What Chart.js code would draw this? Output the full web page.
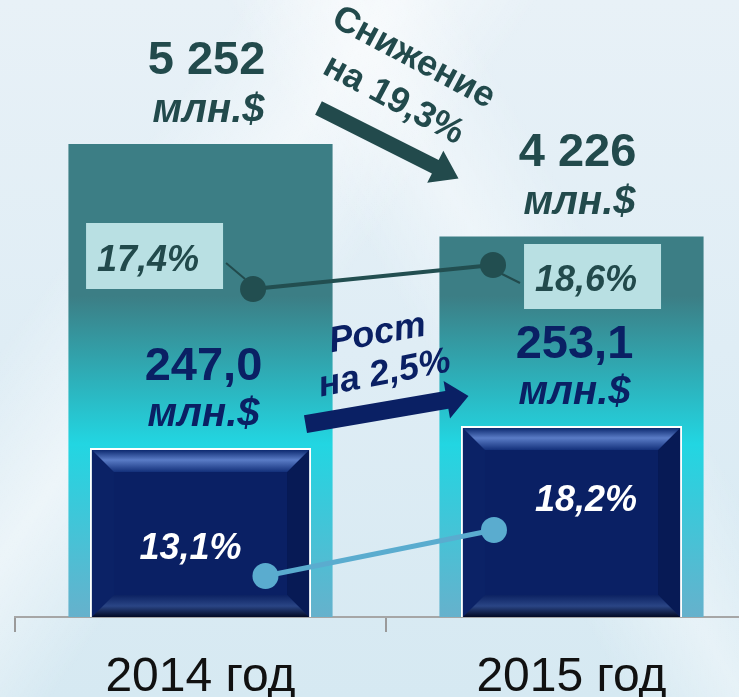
<!DOCTYPE html>
<html>
<head>
<meta charset="utf-8">
<script src="https://cdn.jsdelivr.net/npm/chart.js"></script>
<style>
  html, body { margin: 0; padding: 0; overflow: hidden; }
  body {
    width: 739px; height: 697px;
    background:
      linear-gradient(125deg, rgba(255,255,255,0) 20%, rgba(255,255,255,0.5) 32%, rgba(255,255,255,0) 44%),
      linear-gradient(60deg, rgba(255,255,255,0) 55%, rgba(255,255,255,0.4) 65%, rgba(255,255,255,0) 75%),
      linear-gradient(180deg, #e8f1f7 0%, #dfedf5 50%, #d6e9f2 100%);
  }
  #wrap { position: absolute; left: 0; top: 0; width: 760px; height: 697px; }
</style>
</head>
<body>
<div id="wrap"><canvas id="chart" width="760" height="697"></canvas></div>
<script>
const years = ['2014 год', '2015 год'];
const totalValues = [5252, 4226];
const partValues = [247.0, 253.1];
const totalShare = [17.4, 18.6];
const partShare = [13.1, 18.2];
const totalChange = ['Снижение', 'на 19,3%'];
const partChange = ['Рост', 'на 2,5%'];
const unit = 'млн.$';

const tealText = '#224a4c';
const navyText = '#0a2064';

function fmtInt(v) { return v.toString().replace(/\B(?=(\d{3})+(?!\d))/g, ' '); }
function fmtDec(v) { return v.toFixed(1).replace('.', ','); }

function drawArrow(ctx, x1, y1, x2, y2, shaft, headLen, headW, color) {
  const a = Math.atan2(y2 - y1, x2 - x1);
  const len = Math.hypot(x2 - x1, y2 - y1);
  ctx.save();
  ctx.translate(x1, y1);
  ctx.rotate(a);
  ctx.fillStyle = color;
  ctx.beginPath();
  ctx.moveTo(0, -shaft / 2);
  ctx.lineTo(len - headLen, -shaft / 2);
  ctx.lineTo(len - headLen, -headW / 2);
  ctx.lineTo(len, 0);
  ctx.lineTo(len - headLen, headW / 2);
  ctx.lineTo(len - headLen, shaft / 2);
  ctx.lineTo(0, shaft / 2);
  ctx.closePath();
  ctx.fill();
  ctx.restore();
}

function rotText(ctx, text, x, y, deg, font, color) {
  ctx.save();
  ctx.translate(x, y);
  ctx.rotate(deg * Math.PI / 180);
  ctx.font = font;
  ctx.fillStyle = color;
  ctx.textAlign = 'center';
  ctx.textBaseline = 'middle';
  ctx.fillText(text, 0, 0);
  ctx.restore();
}

// bevel on the navy bars
const bevelPlugin = {
  id: 'bevel',
  afterDatasetDraw(chart, args) {
    if (args.index !== 1) return;
    const ctx = chart.ctx;
    args.meta.data.forEach(function (el) {
      const p = el.getProps(['x', 'y', 'base', 'width'], true);
      const l = p.x - p.width / 2 + 2, r = p.x + p.width / 2 - 2, t = p.y + 2;
      const b = Math.min(p.base, chart.chartArea.bottom);
      const bv = 22;
      ctx.save();
      ctx.fillStyle = '#0b2266';
      ctx.beginPath();
      ctx.moveTo(l, t); ctx.lineTo(l + bv, t + bv); ctx.lineTo(l + bv, b - bv); ctx.lineTo(l, b); ctx.closePath();
      ctx.fill();
      ctx.fillStyle = '#071a55';
      ctx.beginPath();
      ctx.moveTo(r, t); ctx.lineTo(r - bv, t + bv); ctx.lineTo(r - bv, b - bv); ctx.lineTo(r, b); ctx.closePath();
      ctx.fill();
      let g = ctx.createLinearGradient(0, t, 0, t + bv);
      g.addColorStop(0, '#0d2a70');
      g.addColorStop(0.45, '#5a7cc6');
      g.addColorStop(1, '#13307a');
      ctx.fillStyle = g;
      ctx.beginPath();
      ctx.moveTo(l, t); ctx.lineTo(r, t); ctx.lineTo(r - bv, t + bv); ctx.lineTo(l + bv, t + bv); ctx.closePath();
      ctx.fill();
      g = ctx.createLinearGradient(0, b - bv, 0, b);
      g.addColorStop(0, '#0c2262');
      g.addColorStop(0.5, '#2a4585');
      g.addColorStop(1, '#020a25');
      ctx.fillStyle = g;
      ctx.beginPath();
      ctx.moveTo(l, b); ctx.lineTo(r, b); ctx.lineTo(r - bv, b - bv); ctx.lineTo(l + bv, b - bv); ctx.closePath();
      ctx.fill();
      ctx.restore();
    });
  }
};

// value labels, share boxes, arrows
const labelPlugin = {
  id: 'labels',
  afterDatasetsDraw(chart) {
    const ctx = chart.ctx;
    const big = chart.getDatasetMeta(0).data;
    const navy = chart.getDatasetMeta(1).data;
    const dark = chart.getDatasetMeta(2).data;
    const light = chart.getDatasetMeta(3).data;
    ctx.save();
    ctx.textAlign = 'center';
    ctx.textBaseline = 'alphabetic';

    big.forEach(function (el, i) {
      const x = el.x + 6;
      ctx.fillStyle = tealText;
      ctx.font = 'bold 47px "Liberation Sans", Arial, sans-serif';
      ctx.fillText(fmtInt(totalValues[i]), x, el.y - 70);
      ctx.font = 'italic bold 40px "Liberation Sans", Arial, sans-serif';
      ctx.fillText(unit, x + 2, el.y - 22);
    });
    navy.forEach(function (el, i) {
      const x = el.x + 3;
      ctx.fillStyle = navyText;
      ctx.font = 'bold 47px "Liberation Sans", Arial, sans-serif';
      ctx.fillText(fmtDec(partValues[i]), x, el.y - 68);
      ctx.font = 'italic bold 40px "Liberation Sans", Arial, sans-serif';
      ctx.fillText(unit, x, el.y - 22);
    });

    // dark share boxes
    ctx.font = 'italic bold 36px "Liberation Sans", Arial, sans-serif';
    ctx.textAlign = 'left';
    const boxes = [[-167, -66, 137, 66], [31, -21, 137, 65]];
    const leads = [[-27, -26, -8, -10], [9, 9, 27, 18]];
    dark.forEach(function (el, i) {
      const bx = boxes[i], ld = leads[i];
      ctx.strokeStyle = tealText;
      ctx.lineWidth = 2;
      ctx.beginPath();
      ctx.moveTo(el.x + ld[0], el.y + ld[1]);
      ctx.lineTo(el.x + ld[2], el.y + ld[3]);
      ctx.stroke();
      ctx.fillStyle = '#b9e0e3';
      ctx.fillRect(el.x + bx[0], el.y + bx[1], bx[2], bx[3]);
      ctx.fillStyle = tealText;
      ctx.fillText(fmtDec(totalShare[i]) + '%', el.x + bx[0] + 11, el.y + bx[1] + bx[3] - 18);
    });

    // light share labels
    ctx.fillStyle = '#ffffff';
    ctx.font = 'italic bold 36px "Liberation Sans", Arial, sans-serif';
    ctx.textAlign = 'right';
    ctx.fillText(fmtDec(partShare[0]) + '%', light[0].x - 24, light[0].y - 17);
    ctx.textAlign = 'left';
    ctx.fillText(fmtDec(partShare[1]) + '%', light[1].x + 41, light[1].y - 19);

    // change arrows
    drawArrow(ctx, big[0].x + 118, big[0].y - 36, big[1].x - 113, big[1].y - 58, 15, 26, 36, tealText);
    rotText(ctx, totalChange[0], big[0].x + 213, big[0].y - 86, 28, 'bold 36px "Liberation Sans", Arial, sans-serif', tealText);
    rotText(ctx, totalChange[1], big[0].x + 193, big[0].y - 44, 28, 'bold 36px "Liberation Sans", Arial, sans-serif', tealText);

    drawArrow(ctx, navy[0].x + 105, navy[0].y - 24, navy[1].x - 103, navy[1].y - 30, 18, 22, 38, navyText);
    rotText(ctx, partChange[0], navy[0].x + 177, navy[0].y - 114, -10, 'italic bold 36px "Liberation Sans", Arial, sans-serif', navyText);
    rotText(ctx, partChange[1], navy[0].x + 184, navy[0].y - 74, -11, 'italic bold 36px "Liberation Sans", Arial, sans-serif', navyText);
    ctx.restore();
  }
};

function bigGradient(context) {
  const chart = context.chart;
  const area = chart.chartArea;
  if (!area) return '#3c7e85';
  const g = chart.ctx.createLinearGradient(0, area.top, 0, area.bottom);
  g.addColorStop(0, '#3c7e85');
  g.addColorStop(0.48, '#3c7e85');
  g.addColorStop(0.72, '#22d6e2');
  g.addColorStop(1, '#66b1cc');
  return g;
}

new Chart(document.getElementById('chart').getContext('2d'), {
  type: 'bar',
  data: {
    labels: years,
    datasets: [{
      label: 'Всего',
      data: totalValues,
      yAxisID: 'y',
      grouped: false,
      backgroundColor: bigGradient,
      borderWidth: 0,
      categoryPercentage: 1,
      barPercentage: 0.712,
      order: 4
    }, {
      label: 'Часть',
      data: partValues,
      yAxisID: 'yNavy',
      grouped: false,
      backgroundColor: '#0a2064',
      borderColor: '#ffffff',
      borderWidth: 2,
      borderSkipped: 'bottom',
      categoryPercentage: 1,
      barPercentage: 0.596,
      order: 3
    }, {
      type: 'line',
      label: 'Доля всего',
      data: totalShare.map(function (v, i) { return { x: i, y: v }; }),
      xAxisID: 'xDark',
      yAxisID: 'yDark',
      borderColor: '#224e50',
      backgroundColor: '#224e50',
      borderWidth: 4,
      pointRadius: 13,
      pointBorderWidth: 0,
      order: 2
    }, {
      type: 'line',
      label: 'Доля части',
      data: partShare.map(function (v, i) { return { x: i, y: v }; }),
      xAxisID: 'xLight',
      yAxisID: 'yLight',
      borderColor: '#5aaccf',
      backgroundColor: '#5aaccf',
      borderWidth: 5,
      pointRadius: 13,
      pointBorderWidth: 0,
      order: 1
    }]
  },
  options: {
    responsive: false,
    animation: false,
    devicePixelRatio: 1,
    layout: { padding: { left: 15, right: 3, top: 0, bottom: 0 }, autoPadding: false },
    plugins: { legend: { display: false }, tooltip: { enabled: false } },
    scales: {
      x: {
        type: 'category',
        offset: true,
        grid: { display: true, drawOnChartArea: false, tickLength: 15, color: '#9a9a9a', lineWidth: 2, offset: true },
        border: { display: true, color: '#a6a6a6', width: 2 },
        ticks: { color: '#111111', font: { family: '"Liberation Sans", Arial, sans-serif', size: 48 }, padding: 17 },
        afterFit: function (scale) { scale.height = 80; }
      },
      xDark: { type: 'linear', display: false, offset: false, min: -0.992, max: 2.1 },
      xLight: { type: 'linear', display: false, offset: false, min: -1.096, max: 2.151 },
      y: { display: false, min: 0, max: 6851 },
      yNavy: { display: false, min: 200, max: 371.6 },
      yDark: { display: false, min: 1.0, max: 31.85 },
      yLight: { display: false, min: 8.55, max: 76.96 }
    }
  },
  plugins: [bevelPlugin, labelPlugin]
});
</script>
</body>
</html>
